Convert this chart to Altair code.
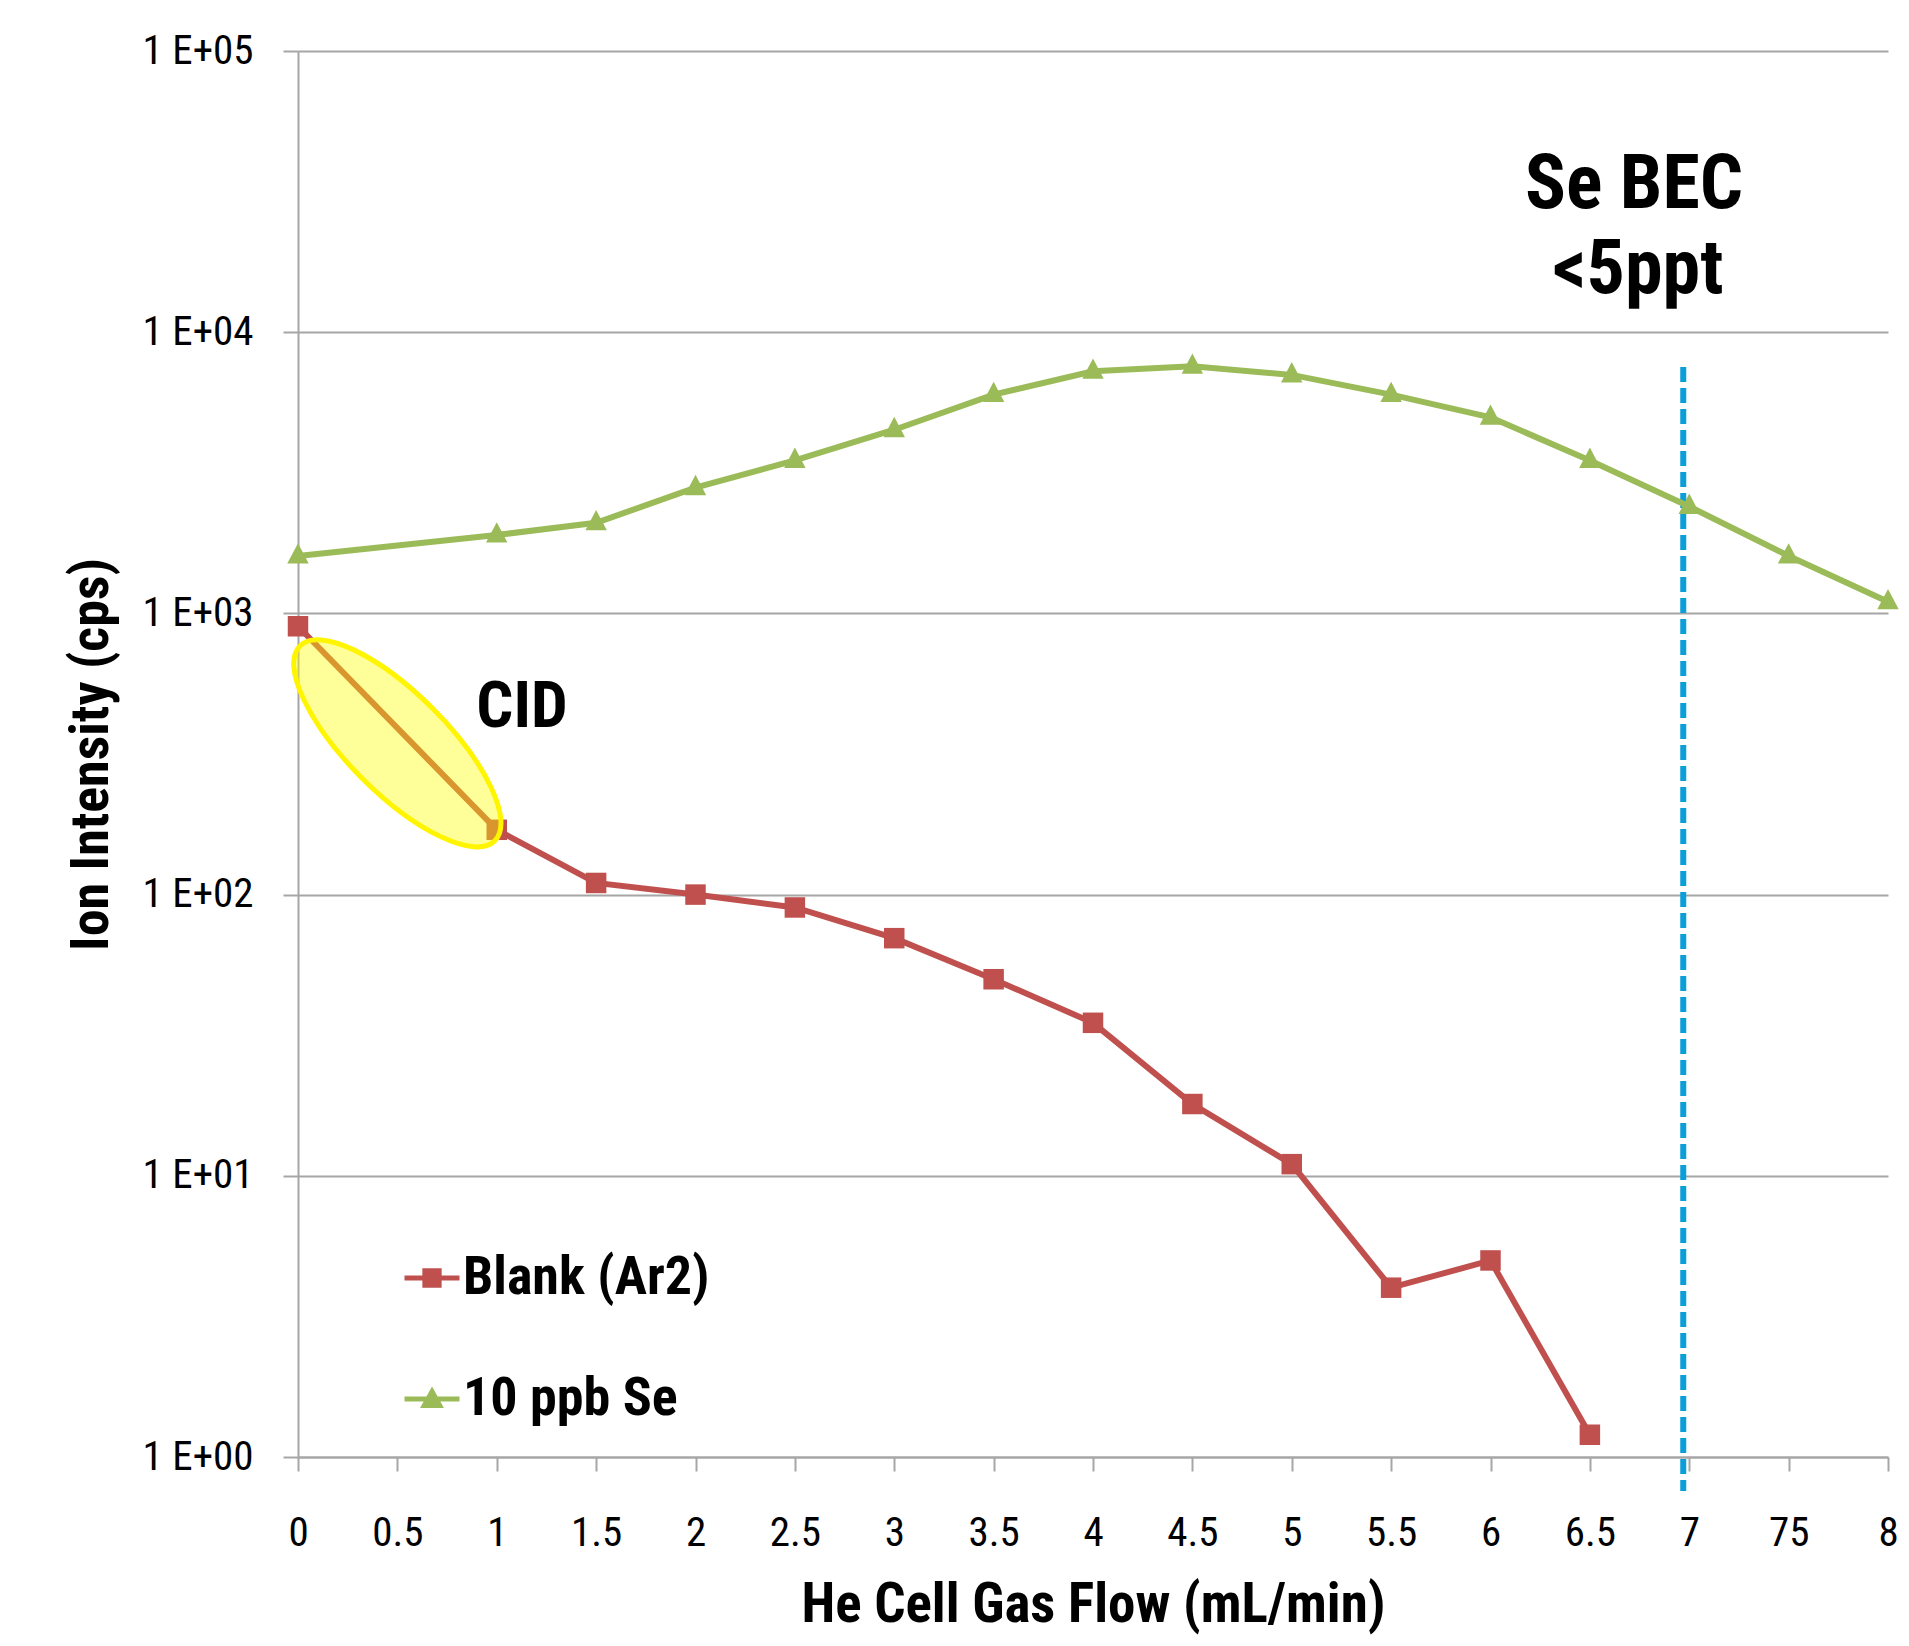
import altair as alt
import pandas as pd

# ---- data ----
categories = ["0", "0.5", "1", "1.5", "2", "2.5", "3", "3.5", "4", "4.5",
              "5", "5.5", "6", "6.5", "7", "75", "8"]
blank_flow = ["0", "1", "1.5", "2", "2.5", "3", "3.5", "4", "4.5", "5", "5.5", "6", "6.5"]
blank_cps = [900, 170, 110, 100, 90, 70, 50, 35, 18, 11, 4, 5, 1.2]
se_flow = ["0", "1", "1.5", "2", "2.5", "3", "3.5", "4", "4.5", "5", "5.5", "6",
           "6.5", "7", "75", "8"]
se_cps = [1600, 1900, 2100, 2800, 3500, 4500, 6000, 7260, 7560, 7050, 6000, 4980,
          3500, 2400, 1600, 1100]
series_names = ["Blank (Ar2)", "10 ppb Se"]
series_colors = ["#C0504D", "#9BBB59"]
y_ticks = [1, 10, 100, 1000, 10000, 100000]

df = pd.concat([
    pd.DataFrame({"flow": blank_flow, "cps": blank_cps, "series": series_names[0]}),
    pd.DataFrame({"flow": se_flow, "cps": se_cps, "series": series_names[1]}),
], ignore_index=True)
one_row = pd.DataFrame({"k": [0]})   # single datum for annotations

F = "Roboto Condensed, Liberation Sans Narrow, DejaVu Sans Condensed, sans-serif"
GRID = "#A6A6A6"

x_scale = alt.Scale(type="point", domain=categories, padding=0)
y_scale = alt.Scale(type="log", domain=[1, 100000], nice=False)

x_axis = alt.Axis(title="He Cell Gas Flow (mL/min)", labelAngle=0, labelAlign="center",
                  grid=False, domainColor=GRID, domainWidth=2, tickColor=GRID,
                  tickWidth=2, tickSize=14, labelPadding=62, labelFont=F,
                  labelFontSize=41, labelColor="black", titleFont=F, titleFontSize=55,
                  titleFontWeight="bold", titleColor="black", titlePadding=25)
y_axis = alt.Axis(title="Ion Intensity (cps)", values=y_ticks,
                  labelExpr="'1 E+0' + round(log(datum.value) / LN10)",
                  grid=True, gridColor=GRID, gridWidth=2, domainColor=GRID,
                  domainWidth=2, tickColor=GRID, tickWidth=2, tickSize=15,
                  labelPadding=30, labelFont=F, labelFontSize=41, labelColor="black",
                  titleFont=F, titleFontSize=54, titleFontWeight="bold",
                  titleColor="black", titlePadding=24)

X = alt.X("flow:O", scale=x_scale, axis=x_axis)
Y = alt.Y("cps:Q", scale=y_scale, axis=y_axis)

base = alt.Chart(df)
anno = alt.Chart(one_row)

bec_rule = anno.mark_rule(color="#0B9FD9", strokeWidth=6, strokeDash=[15, 6],
                          xOffset=-6).encode(
    x=alt.XDatum("7", type="ordinal"),
    y=alt.value(316), y2=alt.value(1440))

marker_paths = ["square", "M0,-1.2L1,0.7L-1,0.7Z"]
series_layers = []
for name, col in zip(series_names, series_colors):
    sub = base.transform_filter(alt.datum.series == name)
    series_layers.append(sub.mark_line(strokeWidth=6, color=col).encode(x=X, y=Y))
for name, col, shp, sz in zip(series_names, series_colors, marker_paths, [420, 460]):
    sub = base.transform_filter(alt.datum.series == name)
    series_layers.append(sub.mark_point(shape=shp, size=sz, filled=True, opacity=1,
                                        color=col, strokeWidth=0).encode(x=X, y=Y))

ellipse_path = "M-1,0A1,0.36,0,1,0,1,0A1,0.36,0,1,0,-1,0Z"
ell_pos = dict(x=alt.XDatum("0.5", type="ordinal"), y=alt.YDatum(345, type="quantitative"))
cid_fill = anno.mark_point(shape=ellipse_path, size=76000, angle=45, filled=True,
                           color="#FFFF00", opacity=0.4, strokeWidth=0).encode(**ell_pos)
cid_edge = anno.mark_point(shape=ellipse_path, size=76000, angle=45, filled=False,
                           color="#FFF500", opacity=1, strokeWidth=5).encode(**ell_pos)

cid_text = anno.mark_text(text="CID", font=F, fontSize=65, fontWeight="bold",
                          color="black", align="center", baseline="alphabetic").encode(
    x=alt.value(224), y=alt.value(676))
bec_text1 = anno.mark_text(text="Se BEC", font=F, fontSize=76, fontWeight="bold",
                           color="black", align="center", baseline="alphabetic").encode(
    x=alt.value(1336), y=alt.value(157))
bec_text2 = anno.mark_text(text="<5ppt", font=F, fontSize=76, fontWeight="bold",
                           color="black", align="center", baseline="alphabetic").encode(
    x=alt.value(1340), y=alt.value(242))

# legend: line-with-marker symbols, carried by an invisible copy of the points
legend_paths = ["M-1,0H1M-0.26,-0.26H0.26V0.26H-0.26Z",
                "M-1,0H1M0,-0.27L0.28,0.24H-0.28Z"]
leg = alt.Legend(title=None, orient="none", legendX=104, legendY=1197,
                 labelFont=F, labelFontSize=54, labelFontWeight="bold",
                 labelColor="black", labelLimit=0, symbolSize=3025,
                 symbolStrokeWidth=5, rowPadding=64, labelOffset=1, padding=0,
                 symbolOpacity=1)
legend_layer = base.mark_point(filled=True, opacity=0).encode(
    x=X, y=Y,
    fill=alt.Fill("series:N", scale=alt.Scale(domain=series_names, range=series_colors),
                  legend=leg),
    stroke=alt.Stroke("series:N", scale=alt.Scale(domain=series_names, range=series_colors),
                      legend=leg),
    shape=alt.Shape("series:N", scale=alt.Scale(domain=series_names, range=legend_paths),
                    legend=leg))

chart = alt.layer(
    bec_rule, *series_layers, cid_fill, cid_edge, cid_text, bec_text1, bec_text2,
    legend_layer
).properties(
    width=1590, height=1406,
    autosize=alt.AutoSizeParams(type="none"),
    padding={"left": 290, "top": 43, "right": 13, "bottom": 181},
    background="white",
).configure_view(stroke=None)

chart.save("out.html", embed_options={"renderer": "svg", "actions": False})
